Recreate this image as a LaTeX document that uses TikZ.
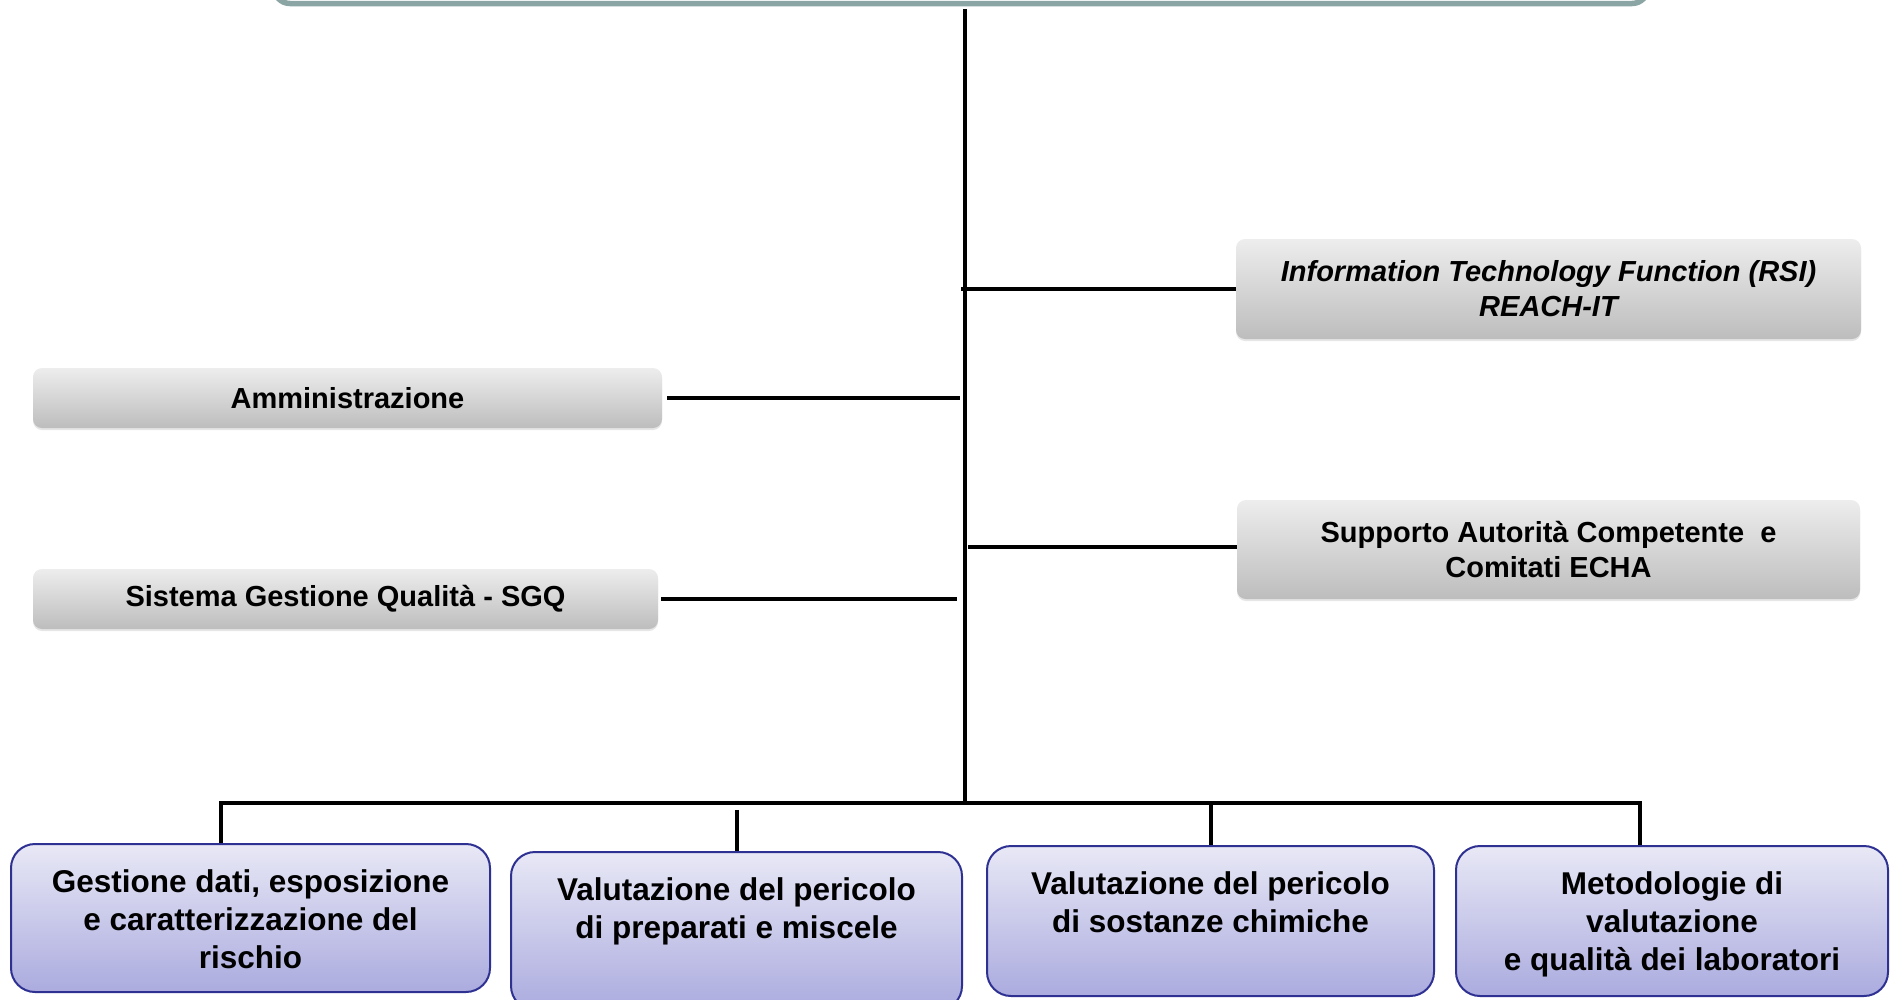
\documentclass[tikz,border=0pt]{standalone}
\usepackage{fontspec}
\setmainfont{Liberation Sans}
\usepackage{xcolor}
\usetikzlibrary{shadows}

\definecolor{grigiochiaro}{HTML}{EDEDED}
\definecolor{grigioscuro}{HTML}{BDBDBD}
\definecolor{lilla}{HTML}{E8E8F6}
\definecolor{lillascuro}{HTML}{ABABDF}
\definecolor{blubordo}{HTML}{2E3192}
\definecolor{verdegrigio}{HTML}{8BA4A4}

% testo in alto nella casella, prima riga a 48pt dal bordo
\newcommand{\cella}[3]{\parbox[c][#1][t]{#2}{\centering\rule{0pt}{48pt}#3}}

\begin{document}
\begin{tikzpicture}[x=1pt,y=-1pt,
   linea/.style={line width=4pt,black},
   box laterale/.style={rounded corners=9pt,top color=grigiochiaro,bottom color=grigioscuro,
      align=center,font=\fontsize{29}{35}\selectfont\bfseries,
      drop shadow={opacity=0.2,shadow xshift=0pt,shadow yshift=-2pt}},
   box reparto/.style={rounded corners=24pt,draw=blubordo,line width=2pt,top color=lilla,
      bottom color=lillascuro,inner sep=0pt,font=\fontsize{31.5}{38}\selectfont\bfseries}]

  \useasboundingbox (0,0) rectangle (1890,999);

  \node[draw=verdegrigio,line width=5.5pt,rounded corners=16pt,fill=white,
        minimum width=1374pt,minimum height=120pt] (testa) at (961,-56.5) {};

  \node[box laterale,minimum width=625pt,minimum height=100pt] (it) at (1548.5,289)
     {\itshape Information Technology Function (RSI)\\\itshape REACH-IT};
  \node[box laterale,minimum width=629pt,minimum height=60pt] (ammin) at (347.5,398) {Amministrazione};
  \node[box laterale,minimum width=623pt,minimum height=99pt] (supporto) at (1548.5,549.5)
     {Supporto Autorità Competente~ e\\Comitati ECHA};
  \node[box laterale,minimum width=625pt,minimum height=60pt] (sgq) at (345.5,599) {Sistema Gestione Qualità - SGQ};

  \node[box reparto,minimum width=479pt] (gestione) at (250.5,918)
     {\cella{148pt}{470pt}{Gestione dati, esposizione\\e caratterizzazione del\\rischio}};
  \node[box reparto,minimum width=451pt] (preparati) at (736.5,931)
     {\cella{158pt}{440pt}{Valutazione del pericolo\\di preparati e miscele}};
  \node[box reparto,minimum width=447pt] (sostanze) at (1210.5,921)
     {\cella{150pt}{440pt}{Valutazione del pericolo\\di sostanze chimiche}};
  \node[box reparto,minimum width=432pt] (metodologie) at (1672,921)
     {\cella{150pt}{425pt}{Metodologie di\\valutazione\\e qualità dei laboratori}};

  \coordinate (cima) at (965,9);
  \coordinate (snodo) at (965,803);
  \coordinate (busSx) at (221,803);
  \coordinate (busDx) at (1640,803);

  % tronco e rami laterali
  \draw[linea] (cima) -- (snodo);
  \draw[linea] ([xshift=-4pt]cima |- it.west) -- (it.west);
  \draw[linea] ([xshift=5pt]ammin.east) -- ([xshift=-5pt]cima |- ammin.east);
  \draw[linea] ([xshift=3pt,yshift=3pt]cima |- supporto.west) -- ([yshift=3pt]supporto.west);
  \draw[linea] ([xshift=3pt]sgq.east) -- ([xshift=-8pt]cima |- sgq.east);

  % reparti
  \draw[linea] (busSx |- gestione.north) |- (busDx) -- (busDx |- metodologie.north);
  \draw[linea] ([yshift=-7pt]preparati.north |- snodo) -- (preparati.north);
  \draw[linea] (sostanze.north |- snodo) -- (sostanze.north);
\end{tikzpicture}
\end{document}
